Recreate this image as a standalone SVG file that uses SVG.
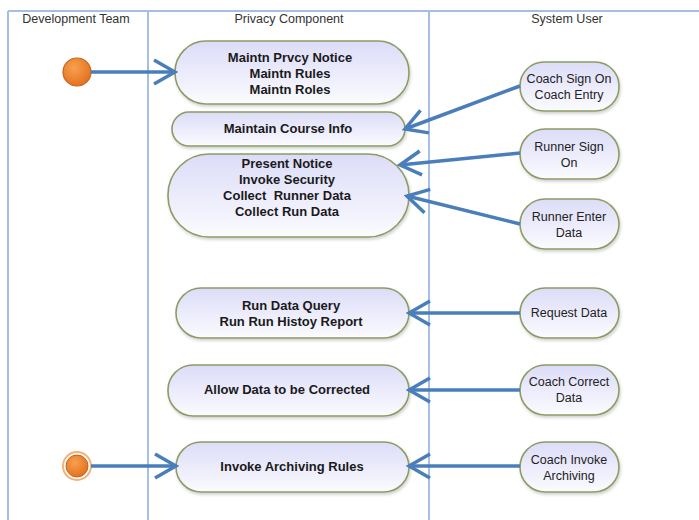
<svg xmlns="http://www.w3.org/2000/svg" width="699" height="520" viewBox="0 0 699 520">
<defs>
<linearGradient id="nodeGrad" x1="0" y1="0" x2="0" y2="1">
<stop offset="0" stop-color="#dcdcf8"/>
<stop offset="1" stop-color="#fbfbff"/>
</linearGradient>
<radialGradient id="orangeGrad" cx="0.4" cy="0.35" r="0.7">
<stop offset="0" stop-color="#f8a050"/>
<stop offset="1" stop-color="#e2701c"/>
</radialGradient>
<filter id="shadow" x="-10%" y="-10%" width="120%" height="130%">
<feDropShadow dx="1" dy="2" stdDeviation="1.5" flood-color="#000" flood-opacity="0.18"/>
</filter>
<marker id="openArrow" markerUnits="userSpaceOnUse" markerWidth="26" markerHeight="28" refX="23" refY="14" orient="auto" viewBox="0 0 26 28">
<path d="M2,2 L23,14 L2,26" fill="none" stroke="#4a7ebb" stroke-width="3.5"/>
</marker>
</defs>
<style>
.lane{stroke:#a4bfe2;stroke-width:2;fill:none}
.hdr{font-family:"Liberation Sans",Arial,sans-serif;font-size:12.5px;fill:#333;text-anchor:middle}
.node rect{fill:url(#nodeGrad);stroke:#8c9c64;stroke-width:1.6;filter:url(#shadow)}
.bt{font-family:"Liberation Sans",Arial,sans-serif;font-size:13px;font-weight:bold;fill:#1a1a1a;text-anchor:middle;white-space:pre}
.rt{font-family:"Liberation Sans",Arial,sans-serif;font-size:12.5px;fill:#222;text-anchor:middle}
.conn{stroke:#4a7ebb;stroke-width:3.5;fill:none;marker-end:url(#openArrow)}
</style>
<rect width="699" height="520" fill="#fff"/>
<g id="lanes">
<line class="lane" x1="8" y1="11" x2="699" y2="11"/>
<line class="lane" x1="8" y1="11" x2="8" y2="520"/>
<line class="lane" x1="148" y1="11" x2="148" y2="520"/>
<line class="lane" x1="429" y1="11" x2="429" y2="520"/>
<text class="hdr" x="76" y="23">Development Team</text>
<text class="hdr" x="289" y="23">Privacy Component</text>
<text class="hdr" x="567" y="23">System User</text>
</g>
<g id="start1">
<circle cx="77" cy="72" r="14" fill="url(#orangeGrad)" stroke="#c8641c" stroke-width="1.2"/>
</g>
<g id="start2">
<circle cx="77" cy="466" r="14" fill="none" stroke="#f6b07a" stroke-width="2"/>
<circle cx="77" cy="466" r="11" fill="url(#orangeGrad)" stroke="#c8641c" stroke-width="1"/>
</g>
<g id="n1" class="node">
<rect x="175" y="41" width="234" height="63" rx="31" ry="31"/>
<text class="bt" x="290" y="62">Maintn Prvcy Notice</text>
<text class="bt" x="290" y="78">Maintn Rules</text>
<text class="bt" x="290" y="94">Maintn Roles</text>
</g>
<g id="n2" class="node">
<rect x="172" y="112" width="233" height="34" rx="17" ry="17"/>
<text class="bt" x="288" y="133">Maintain Course Info</text>
</g>
<g id="n3" class="node">
<rect x="168" y="154" width="241" height="83" rx="41" ry="41"/>
<text class="bt" x="287" y="168">Present Notice</text>
<text class="bt" x="287" y="184">Invoke Security</text>
<text class="bt" x="287" y="200" xml:space="preserve">Collect  Runner Data</text>
<text class="bt" x="287" y="216">Collect Run Data</text>
</g>
<g id="n4" class="node">
<rect x="176" y="288" width="233" height="50" rx="25" ry="25"/>
<text class="bt" x="291" y="310">Run Data Query</text>
<text class="bt" x="291" y="326">Run Run Histoy Report</text>
</g>
<g id="n5" class="node">
<rect x="168" y="365" width="241" height="51" rx="25" ry="25"/>
<text class="bt" x="287" y="394">Allow Data to be Corrected</text>
</g>
<g id="n6" class="node">
<rect x="176" y="442" width="233" height="50" rx="25" ry="25"/>
<text class="bt" x="292" y="471">Invoke Archiving Rules</text>
</g>
<g id="u1" class="node">
<rect x="520" y="62" width="99" height="49" rx="24" ry="24"/>
<text class="rt" x="569" y="83">Coach Sign On</text>
<text class="rt" x="569" y="99">Coach Entry</text>
</g>
<g id="u2" class="node">
<rect x="520" y="129" width="99" height="50" rx="25" ry="25"/>
<text class="rt" x="569" y="151">Runner Sign</text>
<text class="rt" x="569" y="167">On</text>
</g>
<g id="u3" class="node">
<rect x="520" y="199" width="99" height="50" rx="25" ry="25"/>
<text class="rt" x="569" y="221">Runner Enter</text>
<text class="rt" x="569" y="237">Data</text>
</g>
<g id="u4" class="node">
<rect x="520" y="288" width="99" height="50" rx="25" ry="25"/>
<text class="rt" x="569" y="317">Request Data</text>
</g>
<g id="u5" class="node">
<rect x="520" y="365" width="99" height="50" rx="25" ry="25"/>
<text class="rt" x="569" y="386">Coach Correct</text>
<text class="rt" x="569" y="402">Data</text>
</g>
<g id="u6" class="node">
<rect x="520" y="442" width="99" height="50" rx="25" ry="25"/>
<text class="rt" x="569" y="464">Coach Invoke</text>
<text class="rt" x="569" y="480">Archiving</text>
</g>
<g id="connectors">
<line class="conn" x1="91" y1="72" x2="175" y2="72"/>
<line class="conn" x1="520" y1="86" x2="405" y2="129"/>
<line class="conn" x1="520" y1="153" x2="400" y2="165"/>
<line class="conn" x1="520" y1="224" x2="407" y2="196"/>
<line class="conn" x1="520" y1="313" x2="409" y2="313"/>
<line class="conn" x1="520" y1="390" x2="409" y2="390"/>
<line class="conn" x1="520" y1="466" x2="409" y2="466"/>
<line class="conn" x1="91" y1="466" x2="176" y2="466"/>
</g>
</svg>
